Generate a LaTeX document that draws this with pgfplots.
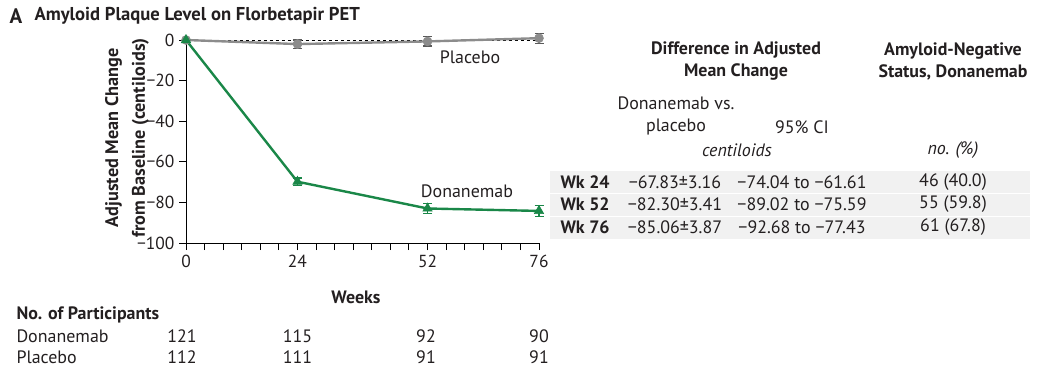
\documentclass[border=0pt]{standalone}
\usepackage{pgfplots}
\pgfplotsset{compat=1.18}
\usepackage{fontspec}
\setmainfont{PT Sans}
\definecolor{dgreen}{RGB}{26,135,72}
\definecolor{pgray}{RGB}{140,140,140}
\definecolor{egray}{RGB}{90,90,90}
\definecolor{bandgray}{RGB}{241,241,241}
\definecolor{txt}{RGB}{35,31,32}
\begin{document}
\begin{tikzpicture}[x=1bp,y=1bp, font=\fontsize{18}{21}\selectfont, every node/.style={text=txt}]
\path (0,0) rectangle (1048,-381);
% title
\node[anchor=west, font=\fontsize{21}{24}\selectfont\bfseries] at (6,-16) {A};
\node[anchor=west, font=\fontsize{18.7}{22}\selectfont\bfseries] at (31,-16) {Amyloid Plaque Level on Florbetapir PET};
% y label
\node[rotate=90, align=center, font=\fontsize{18.3}{27}\selectfont\bfseries] at (127,-138) {Adjusted Mean Change\\from Baseline (centiloids)};

\begin{axis}[at={(186bp,-243bp)}, anchor=south west, scale only axis,
  width=353bp, height=203bp,
  xmin=0, xmax=76, ymin=-100, ymax=0, clip=false,
  axis x line*=bottom, axis y line*=left,
  axis line style={-, line width=1bp, black},
  tick align=outside,
  xtick={0,24,52,76}, minor xtick={4,8,...,72},
  ytick={-100,-80,-60,-40,-20,0},
  yticklabels={−100,−80,−60,−40,−20,0},
  major tick length=7bp, minor tick length=7bp,
  every tick/.style={black, line width=1bp},
  ticklabel style={font=\fontsize{17.5}{20}\selectfont, text=txt},
  /pgf/number format/assume math mode=true,
  xticklabel style={yshift=-2bp},
  yticklabel style={xshift=-1bp},
]
\addplot[black, dashed, line width=0.8bp, forget plot] coordinates {(0,0) (76,0)};
\addplot[pgray, line width=2.4bp, mark=*, mark size=4.5bp, mark options={solid, fill=pgray, draw=pgray, line width=0.5bp},
  error bars/.cd, y dir=both, y explicit,
  error bar style={line width=1.2bp, egray},
  error mark options={rotate=90, mark size=4.5bp, line width=1.2bp, egray}]
  coordinates {(0,0) +- (0,0.4) (24,-2.0) +- (0,2.0) (52,-0.7) +- (0,2.3) (76,0.9) +- (0,2.5)};
\addplot[dgreen, line width=2.4bp, mark=triangle*, mark size=5.5bp, mark options={solid, fill=dgreen, draw=dgreen, line width=0.5bp},
  error bars/.cd, y dir=both, y explicit,
  error bar style={line width=1.2bp, dgreen},
  error mark options={rotate=90, mark size=4.5bp, line width=1.2bp, dgreen}]
  coordinates {(0,0) +- (0,0.4) (24,-69.8) +- (0,1.8) (52,-83.0) +- (0,2.5) (76,-84.2) +- (0,2.8)};
\end{axis}

\node at (470,-57) {Placebo};
\node at (467,-191) {Donanemab};
\node[font=\fontsize{18}{21}\selectfont\bfseries] at (356,-297) {Weeks};

% participants
\node[anchor=west, font=\fontsize{18}{21}\selectfont\bfseries] at (13,-315) {No. of Participants};
\node[anchor=west] at (13,-336) {Donanemab};
\node[anchor=west] at (13,-357) {Placebo};
\foreach \x/\a/\b in {182/121/112, 297.5/115/111, 426/92/91, 539/90/91}{
  \node at (\x,-336) {\a};
  \node at (\x,-357) {\b};
}

% right table
\fill[bandgray] (550,-171) rectangle (1030,-193);
\fill[bandgray] (550,-194) rectangle (1030,-215.5);
\fill[bandgray] (550,-216.5) rectangle (1030,-238.5);
\node[align=center, font=\fontsize{18}{22}\selectfont\bfseries] at (736,-61) {Difference in Adjusted\\Mean Change};
\node[align=center, font=\fontsize{18}{22}\selectfont\bfseries] at (953,-61) {Amyloid-Negative\\Status, Donanemab};
\node[align=center, font=\fontsize{18}{22}\selectfont] at (676,-116) {Donanemab vs.\\placebo};
\node at (802,-127) {95\% CI};
\node[font=\fontsize{18}{21}\selectfont\itshape] at (737,-150) {centiloids};
\node[font=\fontsize{18}{21}\selectfont\itshape] at (953,-150) {no. (\%)};
\foreach \y/\w/\d/\c/\n in {-182/24/−67.83±3.16/−74.04 to −61.61/46 (40.0), -204.5/52/−82.30±3.41/−89.02 to −75.59/55 (59.8), -227/76/−85.06±3.87/−92.68 to −77.43/61 (67.8)}{
  \node[anchor=west, font=\fontsize{18}{21}\selectfont\bfseries] at (557,\y) {Wk \w};
  \node at (675,\y) {\d};
  \node at (802,\y) {\c};
  \node at (953,\y) {\n};
}
\end{tikzpicture}
\end{document}
